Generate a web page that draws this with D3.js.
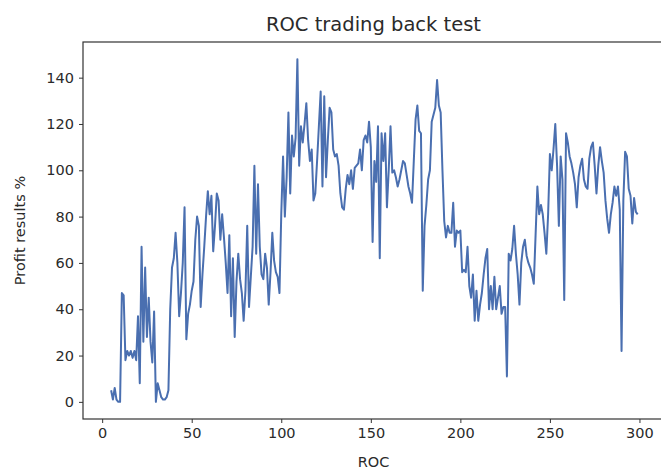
<!DOCTYPE html>
<html>
<head>
<meta charset="utf-8">
<script src="https://cdn.jsdelivr.net/npm/d3@7"></script>
<style>
  html, body { margin: 0; padding: 0; background: #fff; }
  svg { display: block; font-family: "DejaVu Sans", sans-serif; }
</style>
</head>
<body>
<svg id="chart" width="661" height="473"></svg>
<script>
// ROC period runs from 5 to 299
const rocStart = 5;
const profit = [
  5, 1, 6, 1, 0, 0, 47, 46, 18, 22, 20, 22, 19, 22, 18, 37, 8, 67, 26, 58,
  28, 45, 26, 17, 39, 0, 8, 5, 2, 1, 1, 2, 5, 40, 58, 62, 73, 60, 37, 47,
  60, 84, 27, 38, 42, 48, 52, 70, 80, 76, 41, 55, 67, 80, 91,
  81, 89, 65, 76, 90, 87, 70, 81, 71, 60, 47, 72, 37, 62, 28, 52, 64, 53, 47, 35,
  48, 76, 41, 54, 67, 102, 64, 94, 67, 55, 53, 64, 58, 42, 56, 73, 61, 56, 54, 47,
  81, 106, 80, 97, 125, 90, 115, 106, 114, 148, 102, 119, 112, 120, 129, 113, 104, 109, 87, 90,
  104, 119, 134,
  93, 132, 97, 113, 127, 125, 109, 106, 107, 102, 90, 84, 83, 92, 98, 94, 100, 92, 101, 102,
  103, 109, 100, 113, 115, 112, 121, 110, 69,
  104, 95, 119, 62, 116, 104, 116, 84, 100, 119, 99, 100, 97, 93, 96, 100, 104, 103, 98, 93,
  90, 86, 104, 122, 128, 117, 116, 48, 76, 85, 96,
  100, 121, 124, 127, 139, 128, 125, 100, 78, 71, 76, 73, 73, 86, 67, 74, 73, 74, 56, 57,
  56, 67, 50, 45, 55, 35, 48, 35, 42, 47, 55, 62, 66, 40, 50, 40, 54, 40, 45, 50,
  38, 41, 41, 11, 64, 61, 66, 76, 64, 55, 42, 60, 67, 70, 63, 60, 58, 55, 51, 72,
  93,
  81, 85, 81, 73, 64, 81, 107, 100, 109, 120, 102, 76, 106, 96, 44, 116, 112, 106, 103, 99,
  94, 84, 97, 102, 105, 96, 93, 92, 105, 110, 112, 102, 90, 102, 110, 104, 99, 87, 79, 73,
  81, 86, 93, 89, 93, 83, 22, 87, 108, 106, 92, 89, 77, 88, 82, 81
];
const xTicks = [0, 50, 100, 150, 200, 250, 300];
const yTicks = [0, 20, 40, 60, 80, 100, 120, 140];
const titleText = "ROC trading back test";
const xLabel = "ROC";
const yLabel = "Profit results %";

const data = profit.map((v, i) => ({ roc: rocStart + i, value: v }));

const svg = d3.select("#chart");
const plotLeft = 83, plotRight = 664, plotTop = 42, plotBottom = 419;

const x = d3.scaleLinear().domain([-10.7, 313.7]).range([plotLeft, plotRight]);
const y = d3.scaleLinear().domain([-7.4, 155.4]).range([plotBottom, plotTop]);

const textColor = "#2a2a2a";
const lineColor = "#4a6fb0";

// line
const line = d3.line().x(d => x(d.roc)).y(d => y(d.value));
svg.append("path")
  .datum(data)
  .attr("fill", "none")
  .attr("stroke", lineColor)
  .attr("stroke-width", 2)
  .attr("stroke-linejoin", "round")
  .attr("d", line);

// axes
const xAxis = svg.append("g")
  .attr("transform", `translate(0,${plotBottom})`)
  .call(d3.axisBottom(x).tickValues(xTicks).tickSize(4).tickPadding(5).tickFormat(d3.format("d")));
const yAxis = svg.append("g")
  .attr("transform", `translate(${plotLeft},0)`)
  .call(d3.axisLeft(y).tickValues(yTicks).tickSize(4).tickPadding(5).tickFormat(d3.format("d")));

[xAxis, yAxis].forEach(g => {
  g.select(".domain").remove();
  g.selectAll(".tick line").attr("stroke", "#333").attr("stroke-width", 1);
  g.selectAll(".tick text")
    .attr("fill", textColor)
    .style("font-size", "14.5px")
    .style("font-family", "DejaVu Sans, sans-serif");
});

// frame
svg.append("rect")
  .attr("x", plotLeft).attr("y", plotTop)
  .attr("width", plotRight - plotLeft).attr("height", plotBottom - plotTop)
  .attr("fill", "none")
  .attr("stroke", "#333")
  .attr("stroke-width", 1.2);

// title
svg.append("text")
  .attr("x", (plotLeft + plotRight) / 2)
  .attr("y", 31)
  .attr("text-anchor", "middle")
  .attr("fill", textColor)
  .style("font-size", "19.5px")
  .text(titleText);

// x label
svg.append("text")
  .attr("x", (plotLeft + plotRight) / 2)
  .attr("y", 467)
  .attr("text-anchor", "middle")
  .attr("fill", textColor)
  .style("font-size", "14.5px")
  .text(xLabel);

// y label
svg.append("text")
  .attr("transform", `translate(25,${(plotTop + plotBottom) / 2}) rotate(-90)`)
  .attr("text-anchor", "middle")
  .attr("fill", textColor)
  .style("font-size", "14.5px")
  .text(yLabel);
</script>
</body>
</html>
